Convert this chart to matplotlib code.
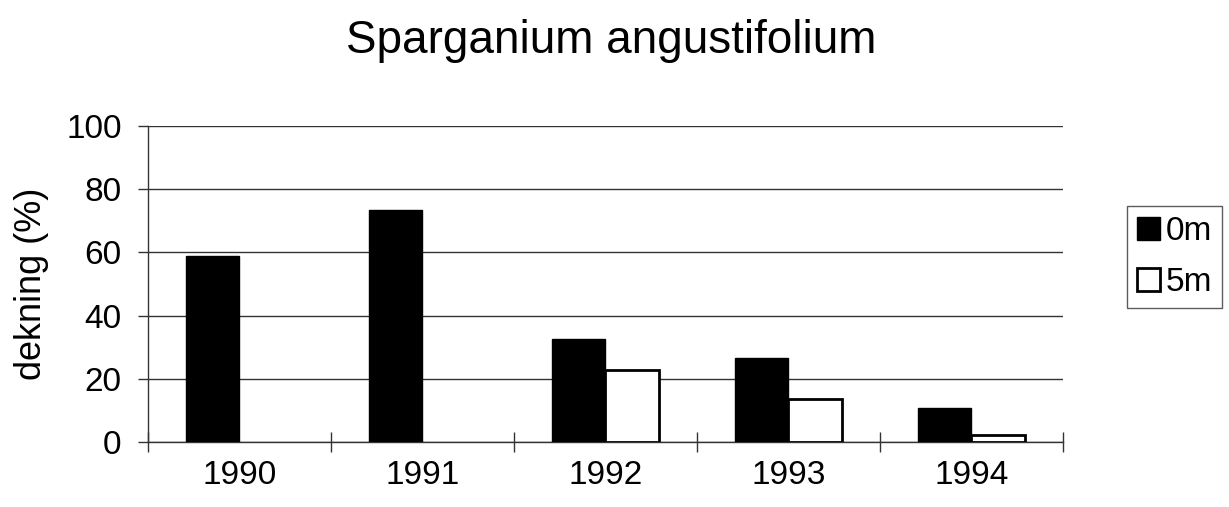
"""Sparganium angustifolium - dekning per year at 0 m and 5 m."""

import matplotlib
matplotlib.use("Agg")
import matplotlib.pyplot as plt
import numpy as np
from matplotlib.ticker import FixedLocator

plt.rcParams['font.family'] = ['Liberation Sans', 'DejaVu Sans']

# ── data ────────────────────────────────────────────────────────────────────
years = ["1990", "1991", "1992", "1993", "1994"]
cover_0m = [59.0, 73.4, 32.7, 26.7, 10.8]
cover_5m = [0.0, 0.0, 22.8, 13.7, 2.2]
series_labels = ["0m", "5m"]
y_ticks = [0, 20, 40, 60, 80, 100]

# ── figure ──────────────────────────────────────────────────────────────────
fig = plt.figure(figsize=(12.29, 5.07), dpi=100)
ax = fig.add_axes([0.1204, 0.1282, 0.7445, 0.6233])

x = np.arange(len(years))
bar_w = 0.29
ax.bar(x - bar_w / 2, cover_0m, width=bar_w, color="black", edgecolor="black",
       linewidth=1, label=series_labels[0], zorder=3)
# skip zero-height bars so they don't leave a stray outline on the axis
mask = np.array(cover_5m) > 0
ax.bar((x + bar_w / 2)[mask], np.array(cover_5m)[mask], width=bar_w,
       color="white", edgecolor="black", linewidth=2, label=series_labels[1],
       zorder=3)

ax.set_xlim(-0.5, len(years) - 0.5)
ax.set_ylim(0, 100)
ax.set_yticks(y_ticks)
ax.set_xticks(x)
ax.set_xticklabels(years)
ax.xaxis.set_minor_locator(FixedLocator(np.arange(-0.5, len(years), 1.0)))

ax.tick_params(axis="x", which="major", length=0, pad=13, labelsize=24)
ax.tick_params(axis="x", which="minor", direction="inout", length=14,
               width=1, color="#333333")
ax.tick_params(axis="y", direction="out", length=7, width=1,
               color="#333333", pad=12, labelsize=24)

ax.grid(axis="y", color="#333333", linewidth=1, zorder=0)
for side in ("top", "right"):
    ax.spines[side].set_visible(False)
for side in ("left", "bottom"):
    ax.spines[side].set_color("#333333")
    ax.spines[side].set_linewidth(1)

ax.set_ylabel("dekning (%)", fontsize=26, labelpad=12)

fig.text(0.497, 0.92, "Sparganium angustifolium", ha="center", va="center",
         fontsize=33)

leg = fig.legend(loc="upper left", bbox_to_anchor=(0.917, 0.593),
                 fontsize=24, frameon=True, fancybox=False,
                 handlelength=0.7, handleheight=0.7, handletextpad=0.15,
                 labelspacing=0.6, borderpad=0.3, borderaxespad=0)
leg.get_frame().set_edgecolor("#333333")
leg.get_frame().set_linewidth(1)

fig.savefig("out.png", dpi=100)
plt.close(fig)
